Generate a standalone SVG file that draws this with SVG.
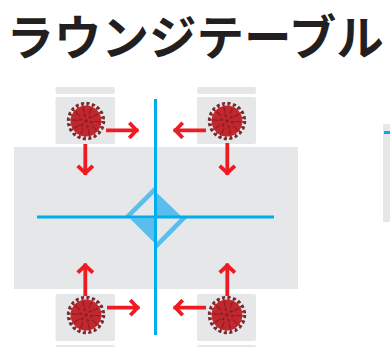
<svg xmlns="http://www.w3.org/2000/svg" width="390" height="347" viewBox="0 0 390 347">
<style>
.g{fill:#e6e7e8}
.b{stroke:#00aeef;stroke-width:3;fill:none}
.l{fill:#5bbdec}
.a{fill:none;stroke:#ed1c24;stroke-width:3.800}
.t{font-family:"Noto Sans CJK JP","Noto Sans",sans-serif;font-weight:700;font-size:47.500px;fill:#231f20}
</style>
<defs>
<g id="virus">
<circle r="16.800" fill="none" stroke="#7f2a2e" stroke-width="3" stroke-dasharray="2.100 3.180"/>
<circle r="18" fill="none" stroke="#7b2a2e" stroke-width="2.400" stroke-dasharray="3.200 2.455"/>
<circle r="15.400" fill="#c1272d"/>
<circle r="10.500" fill="none" stroke="#8a1f24" stroke-width="6" stroke-dasharray="1.100 5.500"/>
<circle r="13.500" fill="none" stroke="#a32328" stroke-width="1.500" stroke-dasharray="2 6.480"/>
<circle r="5.500" fill="none" stroke="#8a1f24" stroke-width="2.800" stroke-dasharray="2 3.760"/>
<circle r="1.800" fill="#8a1f24"/>
</g>
<marker id="h" viewBox="0 0 12 18" refX="11" refY="9" markerWidth="12" markerHeight="18" markerUnits="userSpaceOnUse" orient="auto">
<path d="M1.800 1.400 9 9 1.800 16.600" fill="none" stroke="#ed1c24" stroke-width="3.800"/>
</marker>
</defs>
<text class="t" x="6.500" y="54.500">ラウンジテーブル</text>
<g id="table"><rect class="g" x="14" y="147" width="284" height="142"/></g>
<g id="side-panel"><rect class="g" x="383" y="124" width="7" height="98"/><rect x="384" y="131" width="6" height="3" fill="#00aeef"/></g>
<g id="node-top-left"><rect class="g" x="55.500" y="87" width="59.500" height="7" rx="2"/><rect class="g" x="55.500" y="97" width="59.500" height="47" rx="2"/><use href="#virus" x="86" y="121"/></g>
<g id="node-top-right"><rect class="g" x="197" y="87" width="59" height="7" rx="2"/><rect class="g" x="197" y="97" width="59" height="47" rx="2"/><use href="#virus" x="227" y="121"/></g>
<g id="node-bottom-left"><rect class="g" x="55.500" y="294" width="59.500" height="47" rx="2"/><rect class="g" x="55.500" y="345" width="59.500" height="7" rx="2"/><use href="#virus" x="86" y="315"/></g>
<g id="node-bottom-right"><rect class="g" x="197" y="294" width="59" height="47" rx="2"/><rect class="g" x="197" y="345" width="59" height="7" rx="2"/><use href="#virus" x="227" y="315"/></g>
<g id="diffuser">
<path class="l" d="M155.500 191.500 182 217H155.500ZM130 218.500H155.500V244Z"/>
<path class="l" d="M123 218 155.500 185.500V192L130 217.500ZM188 217 155.500 250V243.500L181.500 217Z"/>
</g>
<g id="connectors">
<path class="b" d="M155.500 99V335M37 217H274"/>
<g class="a">
<path d="M106 130.300H138.500" marker-end="url(#h)"/>
<path d="M85.300 144V175" marker-end="url(#h)"/>
<path d="M206 130.300H173.500" marker-end="url(#h)"/>
<path d="M227.300 143V175" marker-end="url(#h)"/>
<path d="M85.300 296V263.500" marker-end="url(#h)"/>
<path d="M107 307.700H139.500" marker-end="url(#h)"/>
<path d="M227.300 296V263.500" marker-end="url(#h)"/>
<path d="M206 307.700H173.500" marker-end="url(#h)"/>
</g>
</g>
</svg>
